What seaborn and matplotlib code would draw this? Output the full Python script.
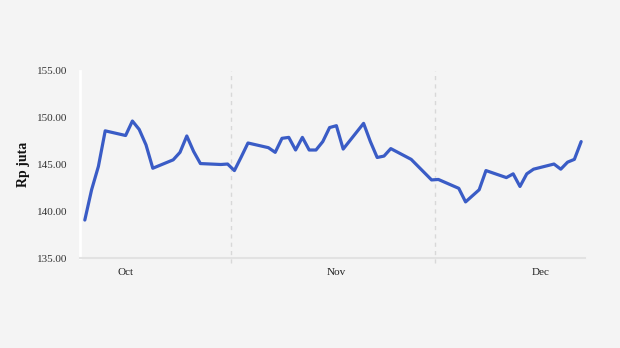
import matplotlib
matplotlib.use("Agg")
import matplotlib.pyplot as plt
import pandas as pd
import seaborn as sns

dates = [
    "2023-10-10", "2023-10-11", "2023-10-12", "2023-10-13", "2023-10-16",
    "2023-10-17", "2023-10-18", "2023-10-19", "2023-10-20", "2023-10-23",
    "2023-10-24", "2023-10-25", "2023-10-26", "2023-10-27", "2023-10-30",
    "2023-10-31", "2023-11-01", "2023-11-02", "2023-11-03", "2023-11-06",
    "2023-11-07", "2023-11-08", "2023-11-09", "2023-11-10", "2023-11-11",
    "2023-11-12", "2023-11-13", "2023-11-14", "2023-11-15", "2023-11-16",
    "2023-11-17", "2023-11-20", "2023-11-21", "2023-11-22", "2023-11-23",
    "2023-11-24", "2023-11-27", "2023-11-30", "2023-12-01", "2023-12-04",
    "2023-12-05", "2023-12-07", "2023-12-08", "2023-12-11", "2023-12-12",
    "2023-12-13", "2023-12-14", "2023-12-15", "2023-12-18", "2023-12-19",
    "2023-12-20", "2023-12-21", "2023-12-22",
]
values = [
    139.06, 142.3, 144.8, 148.6, 148.1,
    149.65, 148.75, 147.1, 144.6, 145.5,
    146.3, 148.05, 146.4, 145.1, 145.0,
    145.05, 144.35, 145.8, 147.3, 146.8,
    146.3, 147.8, 147.9, 146.55, 147.9,
    146.55, 146.55, 147.45, 148.95, 149.15,
    146.65, 149.4, 147.45, 145.75, 145.9,
    146.7, 145.55, 143.35, 143.4, 142.45,
    141.0, 142.3, 144.35, 143.6, 144.0,
    142.65, 144.0, 144.5, 145.05, 144.5,
    145.25, 145.55, 147.45,
]
yticks = [135, 140, 145, 150, 155]
month_starts = ["2023-11-01", "2023-12-01"]
month_labels = ["Oct", "Nov", "Dec"]
month_mids = ["2023-10-16 10:00", "2023-11-16 10:00", "2023-12-16 14:00"]

df = pd.DataFrame({"date": pd.to_datetime(dates) + pd.Timedelta(hours=12),
                   "value": values})

sns.set_style("white")
plt.rcParams["font.family"] = ["Liberation Serif", "DejaVu Serif"]

bg = "#f4f4f4"
fig = plt.figure(figsize=(6.2, 3.48), dpi=100, facecolor=bg)
ax = fig.add_axes([0.129, 0.2586, 0.8145, 0.5374])
ax.set_facecolor(bg)

sns.lineplot(data=df, x="date", y="value", ax=ax, color="#3a5cc6",
             linewidth=2.3, zorder=3)

for d in month_starts:
    ax.axvline(pd.Timestamp(d), ymin=-0.028, ymax=1, clip_on=False,
               color="#d8d8d8", linewidth=1.0, linestyle=(0, (3, 3)), zorder=1)

ax.set_xlim(pd.Timestamp("2023-10-01") + pd.Timedelta(days=8.79),
            pd.Timestamp("2023-10-01") + pd.Timedelta(days=83.06))
ax.set_ylim(135, 155)
ax.set_yticks(yticks)
ax.set_yticklabels([f"{v:.2f}" for v in yticks])
ax.set_xticks([pd.Timestamp(m) for m in month_mids])
ax.set_xticklabels(month_labels)

ax.tick_params(axis="y", length=5, width=1.5, color="white", pad=4,
               labelsize=8, labelcolor="#333333")
ax.tick_params(axis="x", length=0, pad=7, labelsize=8, labelcolor="#222222")

for s in ["top", "right"]:
    ax.spines[s].set_visible(False)
ax.spines["left"].set_color("white")
ax.spines["left"].set_linewidth(2)
ax.spines["bottom"].set_color("#e2e2e2")
ax.spines["bottom"].set_linewidth(1.5)

ax.set_xlabel("")
ax.set_ylabel("Rp juta", fontsize=10, fontweight="bold", color="#111111",
              labelpad=5)

fig.savefig("out.png", dpi=100, facecolor=bg)
